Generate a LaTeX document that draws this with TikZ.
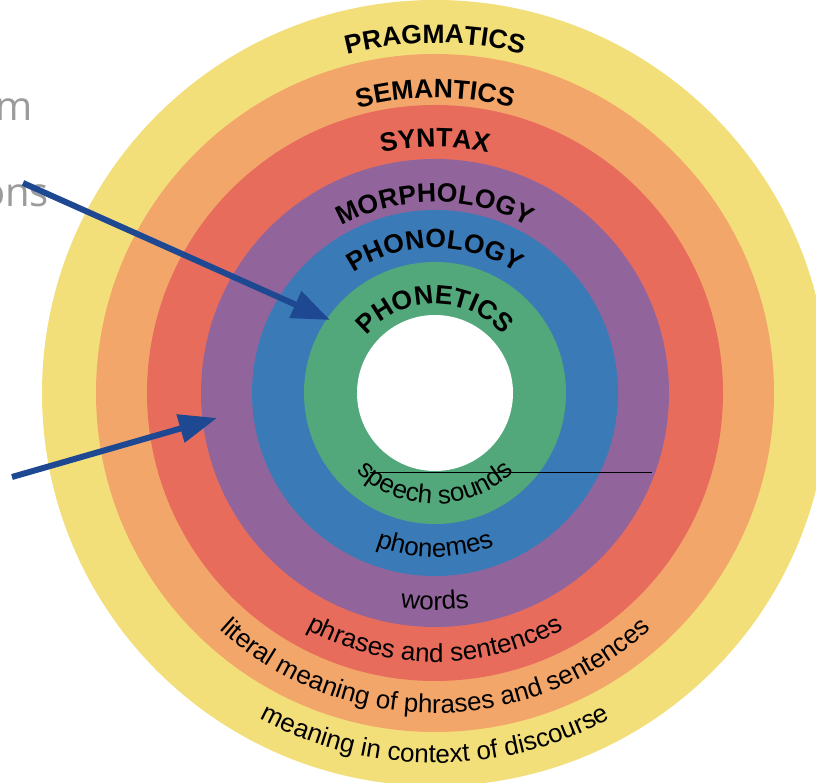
\documentclass[tikz,border=0pt]{standalone}
\usepackage{fontspec}
\setmainfont{Liberation Sans}
\newfontfamily\notefont{Open Sans}
\usetikzlibrary{decorations.text, arrows.meta}

\definecolor{ringyellow}{RGB}{243,223,122}
\definecolor{ringorange}{RGB}{243,166,106}
\definecolor{ringred}{RGB}{232,108,92}
\definecolor{ringpurple}{RGB}{145,101,155}
\definecolor{ringblue}{RGB}{58,122,183}
\definecolor{ringgreen}{RGB}{82,168,123}
\definecolor{pointer}{RGB}{30,72,145}
\definecolor{notegray}{RGB}{155,155,155}

\newcommand\headfont{\fontsize{26.5}{27}\selectfont\bfseries}
\newcommand\subfont{\fontsize{26}{27}\selectfont}

% level name written over the top of a ring
\newcommand\levelname[2]{%
  \path[decorate, decoration={text along path, text align=center,
        text={|\headfont|#2}}]
    (centre) ++(180:#1) arc[start angle=180, end angle=0, radius=#1];}
% unit name written under the bottom of a ring
\newcommand\unitname[2]{%
  \path[decorate, decoration={text along path, text align=center,
        text={|\subfont|#2}}]
    (centre) ++(180:#1) arc[start angle=180, end angle=360, radius=#1];}

\tikzset{
  pointerarrow/.style={draw=pointer, line width=6pt,
    -{Triangle[length=38pt, width=28pt]}},
  fragment/.style={text=notegray, font=\notefont\fontsize{40}{40}\selectfont,
    inner sep=0pt, anchor=base east},
  rule/.style={draw=black, line width=0.8pt}
}

\begin{document}
\begin{tikzpicture}
\useasboundingbox (0pt,0pt) rectangle (816pt,783pt);
\clip (0pt,0pt) rectangle (816pt,783pt);
\fill[white] (0pt,0pt) rectangle (816pt,783pt);

\coordinate (centre) at (435pt,390pt);

% concentric rings, outermost first
\fill[ringyellow] (centre) circle[radius=393pt];
\fill[ringorange] (centre) circle[radius=339pt];
\fill[ringred]    (centre) circle[radius=288pt];
\fill[ringpurple] (centre) circle[radius=234pt];
\fill[ringblue]   (centre) circle[radius=183pt];
\fill[ringgreen]  (centre) circle[radius=131pt];
\fill[white]      (centre) circle[radius=78pt];

% names of the levels
\levelname{350pt}{PRAGMATICS}
\levelname{295pt}{SEMANTICS}
\levelname{246pt}{SYNTAX}
\levelname{191pt}{MORPHOLOGY}
\levelname{145pt}{PHONOLOGY}
\levelname{89pt}{PHONETICS}

% units handled at each level
\unitname{111pt}{speech sounds}
\unitname{164pt}{phonemes}
\unitname{217pt}{words}
\unitname{269pt}{phrases and sentences}
\unitname{320pt}{literal meaning of phrases and sentences}
\unitname{370pt}{meaning in context of discourse}

% stray rule across the inner ring
\coordinate (ruleL) at (370pt,311pt);
\coordinate (ruleR) at (652pt,311pt);
\draw[rule] (ruleL) -- (ruleR);

% text fragments at the left edge
\node[fragment] (fragA) at (33pt,662pt) {m};
\node[fragment] (fragB) at (49pt,576pt) {ons};

% pointers
\coordinate (ptrAfrom) at (23pt,600pt);
\coordinate (ptrAto)   at (330pt,463pt);
\coordinate (ptrBfrom) at (12pt,306pt);
\coordinate (ptrBto)   at (217pt,365pt);
\draw[pointerarrow] (ptrAfrom) -- (ptrAto);
\draw[pointerarrow] (ptrBfrom) -- (ptrBto);
\end{tikzpicture}
\end{document}
